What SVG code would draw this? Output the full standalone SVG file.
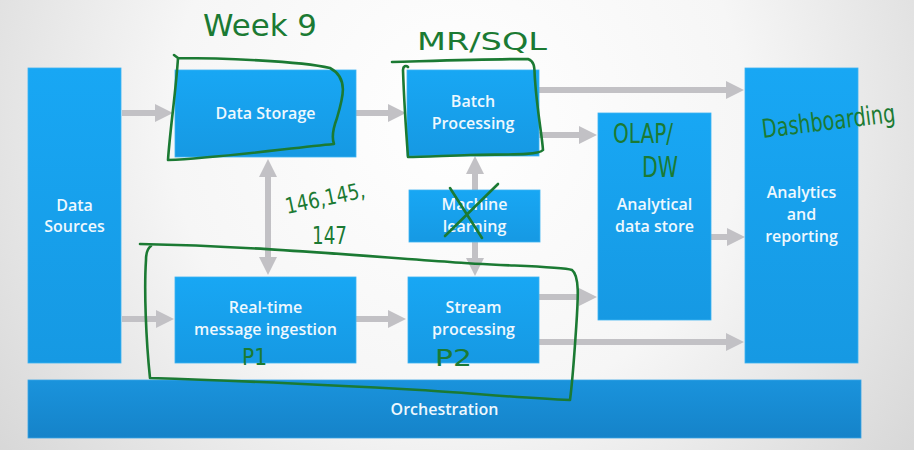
<svg xmlns="http://www.w3.org/2000/svg" width="914" height="450" viewBox="0 0 914 450">
<defs>
<radialGradient id="bg" cx="457" cy="120" r="640" gradientUnits="userSpaceOnUse">
<stop offset="0" stop-color="#ffffff"/>
<stop offset="0.45" stop-color="#f6f6f6"/>
<stop offset="1" stop-color="#cfcfcf"/>
</radialGradient>
<linearGradient id="blue" x1="0" y1="0" x2="0" y2="1">
<stop offset="0" stop-color="#18a7f4"/>
<stop offset="1" stop-color="#1699e3"/>
</linearGradient>
<linearGradient id="orch" x1="0" y1="0" x2="0" y2="1">
<stop offset="0" stop-color="#1a93dc"/>
<stop offset="1" stop-color="#1583c9"/>
</linearGradient>
<marker id="ah" viewBox="0 0 18 18" refX="8" refY="9" markerWidth="18" markerHeight="18" markerUnits="userSpaceOnUse" orient="auto-start-reverse">
<path d="M0,0 L18,9 L0,18 Z" fill="#c2c1c5"/>
</marker>
<style>
.box{fill:url(#blue);stroke:#3db3f2;stroke-width:0.8}
.lbl{font-family:"Open Sans","DejaVu Sans",sans-serif;font-weight:600;font-size:16px;fill:#eef8fe;text-anchor:middle}
.arr{stroke:#c2c1c5;stroke-width:6;fill:none;marker-end:url(#ah)}
.dbl{marker-start:url(#ah)}
.ink{stroke:#1b7a33;stroke-width:2.6;fill:none;stroke-linecap:round;stroke-linejoin:round}
.hw{font-family:"DejaVu Sans",sans-serif;font-weight:normal;fill:#1b7a33}
</style>
</defs>
<rect x="0" y="0" width="914" height="450" fill="url(#bg)"/>

<g id="connectors">
<line class="arr" x1="122" y1="113" x2="163" y2="113"/>
<line class="arr" x1="356" y1="113" x2="396" y2="113"/>
<line class="arr" x1="539" y1="90" x2="734" y2="90"/>
<line class="arr" x1="539" y1="135" x2="587" y2="135"/>
<line class="arr" x1="711" y1="237" x2="735" y2="237"/>
<line class="arr" x1="539" y1="297" x2="587" y2="297"/>
<line class="arr" x1="539" y1="342" x2="734" y2="342"/>
<line class="arr" x1="122" y1="319" x2="164" y2="319"/>
<line class="arr" x1="356" y1="319" x2="396" y2="319"/>
<line class="arr dbl" x1="268" y1="169" x2="268" y2="265"/>
<line class="arr" x1="475" y1="190" x2="475" y2="166"/>
<line class="arr" x1="475" y1="242" x2="475" y2="266"/>
</g>

<g id="data-sources">
<rect class="box" x="28" y="68" width="93" height="295"/>
<text class="lbl" x="74.5" y="211">Data</text>
<text class="lbl" x="74.5" y="232">Sources</text>
</g>
<g id="data-storage">
<rect class="box" x="175" y="70" width="181" height="87"/>
<text class="lbl" x="265.5" y="119">Data Storage</text>
</g>
<g id="batch-processing">
<rect class="box" x="407" y="70" width="132" height="86"/>
<text class="lbl" x="473" y="107">Batch</text>
<text class="lbl" x="473" y="129">Processing</text>
</g>
<g id="machine-learning">
<rect class="box" x="409" y="190" width="131" height="52"/>
<text class="lbl" x="474.5" y="210">Machine</text>
<text class="lbl" x="474.5" y="232">learning</text>
</g>
<g id="analytical-data-store">
<rect class="box" x="598" y="113" width="113" height="207"/>
<text class="lbl" x="654.5" y="210">Analytical</text>
<text class="lbl" x="654.5" y="232">data store</text>
</g>
<g id="analytics-reporting">
<rect class="box" x="745" y="68" width="113" height="295"/>
<text class="lbl" x="801.5" y="198">Analytics</text>
<text class="lbl" x="801.5" y="220">and</text>
<text class="lbl" x="801.5" y="242">reporting</text>
</g>
<g id="real-time-ingestion">
<rect class="box" x="175" y="277" width="181" height="86"/>
<text class="lbl" x="265.5" y="313">Real-time</text>
<text class="lbl" x="265.5" y="335">message ingestion</text>
</g>
<g id="stream-processing">
<rect class="box" x="408" y="277" width="131" height="86"/>
<text class="lbl" x="473.5" y="313">Stream</text>
<text class="lbl" x="473.5" y="335">processing</text>
</g>
<g id="orchestration">
<rect x="28" y="380" width="833" height="58" fill="url(#orch)" stroke="#3aa6e6" stroke-width="0.8"/>
<text class="lbl" x="444.5" y="415">Orchestration</text>
</g>

<g id="annotations">
<path class="ink" d="M174,55 L178,58 C176,90 170,130 168,160 C220,158 290,148 334,144 C331,136 334,126 337,118 C343,98 349,78 330,68 C300,61 220,58 178,58"/>
<path class="ink" d="M392,62 C430,61 490,59 528,59 C536,62 534,70 535,80 C537,110 542,135 543,150 C538,156 500,154 470,155 C440,156 420,157 408,157 C406,130 404,100 403,70 C403,66 406,65 408,67"/>
<path class="ink" d="M140,244 C250,246 350,255 450,262 C500,266 560,266 572,270 C580,276 578,300 576,330 C574,360 572,385 570,400 C520,398 470,393 420,390 C330,385 220,380 150,378 C146,340 144,290 146,260 C146,252 148,248 151,246"/>
<path class="ink" d="M450,188 L482,238 M498,184 L445,236"/>
<text class="hw" x="203" y="36" font-size="30" textLength="114" lengthAdjust="spacingAndGlyphs">Week 9</text>
<text class="hw" x="417" y="50" font-size="24" textLength="130" lengthAdjust="spacingAndGlyphs">MR/SQL</text>
<text class="hw" x="287" y="214" font-size="22" textLength="81" lengthAdjust="spacingAndGlyphs" transform="rotate(-12 287 214)">146,145,</text>
<text class="hw" x="312" y="244" font-size="24" textLength="35" lengthAdjust="spacingAndGlyphs">147</text>
<text class="hw" x="613" y="143" font-size="27" textLength="60" lengthAdjust="spacingAndGlyphs">OLAP/</text>
<text class="hw" x="642" y="177" font-size="28" textLength="36" lengthAdjust="spacingAndGlyphs">DW</text>
<text class="hw" x="763" y="138" font-size="26" textLength="134" lengthAdjust="spacingAndGlyphs" transform="rotate(-7 763 138)">Dashboarding</text>
<text class="hw" x="242" y="365" font-size="23" textLength="25" lengthAdjust="spacingAndGlyphs">P1</text>
<text class="hw" x="435" y="366" font-size="23" textLength="37" lengthAdjust="spacingAndGlyphs">P2</text>
</g>
</svg>
